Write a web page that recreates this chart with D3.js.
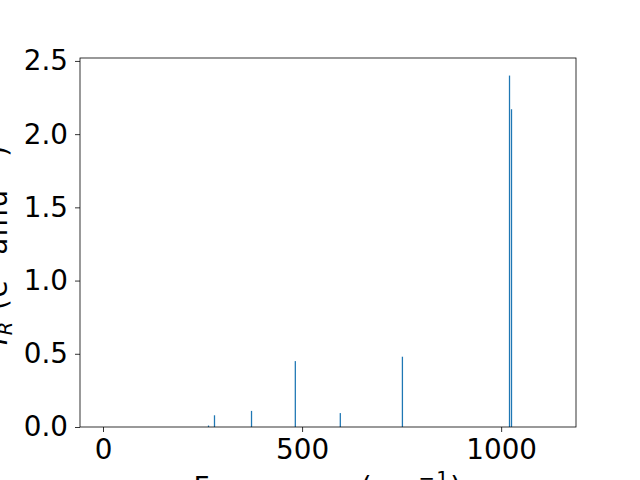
<!DOCTYPE html>
<html>
<head>
<meta charset="utf-8">
<script src="https://cdn.jsdelivr.net/npm/d3@7"></script>
<style>
  body { margin: 0; background: #fff; }
  svg { display: block; font-family: "DejaVu Sans", sans-serif; }
</style>
</head>
<body>
<svg id="chart" width="640" height="480"></svg>
<script>
// IR intensities
const frequencies = [265, 280, 373, 483, 596, 752, 1021, 1026];
const intensities = [0.01, 0.08, 0.11, 0.45, 0.095, 0.48, 2.40, 2.17];
const xTicks = [0, 500, 1000];
const yTicks = [0, 0.5, 1.0, 1.5, 2.0, 2.5];

const width = 640;
const height = 480;
const margin = { top: 58, right: 64, bottom: 53, left: 80 };
const fs = 27.8;

const svg = d3.select("#chart");

const x = d3
  .scaleLinear()
  .domain([-57.8, 1188])
  .range([margin.left, width - margin.right]);

const y = d3
  .scaleLinear()
  .domain([0, 2.52])
  .range([height - margin.bottom, margin.top]);

// bars (thin, matplotlib default blue)
const barW = 3.2;
svg
  .append("g")
  .selectAll("rect")
  .data(frequencies)
  .enter()
  .append("rect")
  .attr("x", (d) => x(d - barW / 2))
  .attr("width", (d) => x(d + barW / 2) - x(d - barW / 2))
  .attr("y", (d, i) => y(intensities[i]))
  .attr("height", (d, i) => y(0) - y(intensities[i]))
  .attr("fill", "#1f77b4");

// axes
const xAxis = svg
  .append("g")
  .attr("transform", `translate(0,${height - margin.bottom})`)
  .call(d3.axisBottom(x).tickValues(xTicks).tickSize(5).tickPadding(7).tickFormat(d3.format("d")));

const yAxis = svg
  .append("g")
  .attr("transform", `translate(${margin.left},0)`)
  .call(d3.axisLeft(y).tickValues(yTicks).tickSize(5).tickPadding(7).tickFormat(d3.format(".1f")));

[xAxis, yAxis].forEach((a) => {
  a.select(".domain").remove();
  a.selectAll(".tick line").attr("stroke", "#000").attr("stroke-width", 0.8);
  a.selectAll(".tick text")
    .attr("fill", "#000")
    .style("font-size", fs + "px")
    .style("font-family", "DejaVu Sans");
});

// frame
svg
  .append("rect")
  .attr("x", margin.left)
  .attr("y", margin.top)
  .attr("width", width - margin.left - margin.right)
  .attr("height", height - margin.top - margin.bottom)
  .attr("fill", "none")
  .attr("stroke", "#000")
  .attr("stroke-width", 0.8);

// axis labels (both run past the edge of the figure, as in the original)
const sup = 19.5;
const xl = svg
  .append("text")
  .attr("x", 328)
  .attr("y", 497)
  .attr("text-anchor", "middle")
  .style("font-size", fs + "px")
  .style("letter-spacing", "1.5px");
xl.append("tspan").text("Frequency (cm");
xl.append("tspan").attr("dy", -12).style("font-size", sup + "px").text("\u22121");
xl.append("tspan").attr("dy", 12).text(")");

const yl = svg
  .append("text")
  .attr("transform", "translate(7,345) rotate(-90)")
  .attr("text-anchor", "start")
  .style("font-size", fs + "px")
  .style("letter-spacing", "1.5px");
yl.append("tspan").style("font-style", "italic").text("I");
yl.append("tspan").attr("dy", 5).style("font-size", sup + "px").style("font-style", "italic").text("R");
yl.append("tspan").attr("dy", -5).text(" (e");
yl.append("tspan").attr("dy", -12).style("font-size", sup + "px").text("2");
yl.append("tspan").attr("dy", 12).text(" amu");
yl.append("tspan").attr("dy", -12).style("font-size", sup + "px").text("\u22121");
yl.append("tspan").attr("dy", 12).text(")");
</script>
</body>
</html>
